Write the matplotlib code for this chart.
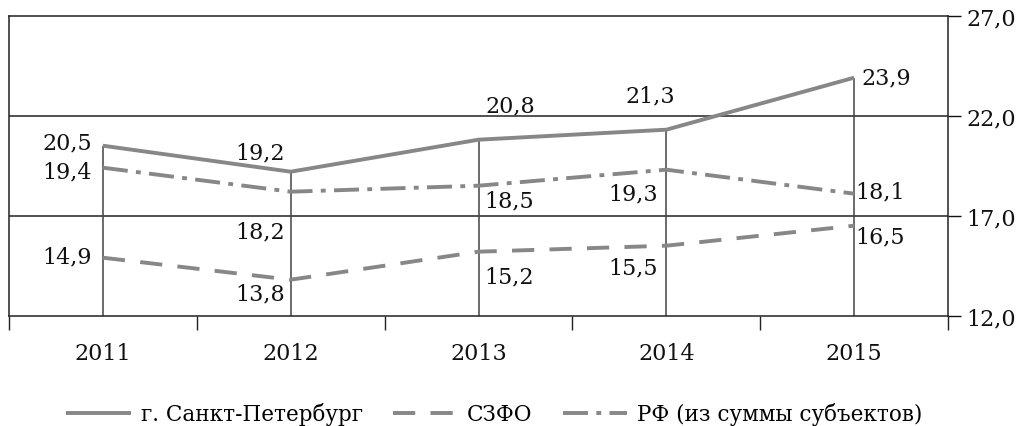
import matplotlib
matplotlib.use("Agg")
import matplotlib.pyplot as plt
from matplotlib.ticker import FixedLocator, FuncFormatter

plt.rcParams['font.family'] = ['DejaVu Serif']
plt.rcParams['lines.scale_dashes'] = False

years = ['2011', '2012', '2013', '2014', '2015']
spb = [20.5, 19.2, 20.8, 21.3, 23.9]
szfo = [14.9, 13.8, 15.2, 15.5, 16.5]
rf = [19.4, 18.2, 18.5, 19.3, 18.1]
series_names = ['г. Санкт-Петербург', 'СЗФО', 'РФ (из суммы субъектов)']
yticks = [12.0, 17.0, 22.0, 27.0]

# label offsets (pixels) per series / year
spb_off = [(-36, 3), (-31, 19), (32, 34), (-16, 34), (32, 0)]
rf_off = [(-36, -4), (-31, -40), (31, -15), (-33, -24), (26, 2)]
szfo_off = [(-36, 1), (-31, -14), (31, -25), (-33, -22), (26, -11)]

FS = 16

fig = plt.figure(figsize=(10.17, 4.27), dpi=100)
ax = fig.add_axes([9/1017, 1-316.7/427, 939/1017, 300/427])
x = list(range(len(years)))
col = '#878787'
lw = 2.8
l1, = ax.plot(x, spb, color=col, lw=lw, solid_capstyle='butt', zorder=3)
l2, = ax.plot(x, szfo, color=col, lw=lw, dashes=(16, 11), zorder=3)
l3, = ax.plot(x, rf, color=col, lw=lw, dashes=(18, 6, 3.5, 6), zorder=3)
ax.vlines(x, yticks[0], spb, color='#444444', lw=1.1, zorder=2)
for yv in yticks[1:3]:
    ax.axhline(yv, color='#222222', lw=1.1, zorder=1)

ax.set_xlim(-0.5, 4.5)
ax.set_ylim(12, 27)
ax.yaxis.tick_right()
ax.set_yticks(yticks)
ax.yaxis.set_major_formatter(FuncFormatter(lambda v, p: f'{v:.1f}'.replace('.', ',')))
ax.tick_params(axis='y', direction='out', length=9, width=1, pad=4, labelsize=FS, colors='#111111')
ax.set_xticks(x)
ax.set_xticklabels(years)
ax.xaxis.set_minor_locator(FixedLocator([-0.5, 0.5, 1.5, 2.5, 3.5, 4.5]))
ax.tick_params(axis='x', which='major', length=0, pad=19, labelsize=FS, colors='#111111')
ax.tick_params(axis='x', which='minor', length=10, width=1, direction='out', color='#222222')
for s in ax.spines.values():
    s.set_color('#222222')
    s.set_linewidth(1.1)

def fmt(v):
    return f'{v:.1f}'.replace('.', ',')

for vals, offs in ((spb, spb_off), (rf, rf_off), (szfo, szfo_off)):
    for xi, v, (dx, dy) in zip(x, vals, offs):
        ax.annotate(fmt(v), (xi, v), xytext=(dx * 0.72, dy * 0.72), textcoords='offset points',
                    ha='center', va='center', fontsize=FS, color='#111111')

fig.legend([l1, l2, l3], series_names, loc='center', bbox_to_anchor=(0.486, 1-415/427), ncol=3,
           frameon=False, fontsize=15.5, handlelength=3.0, handletextpad=0.45, columnspacing=1.4)

fig.savefig('out.png', dpi=100)
